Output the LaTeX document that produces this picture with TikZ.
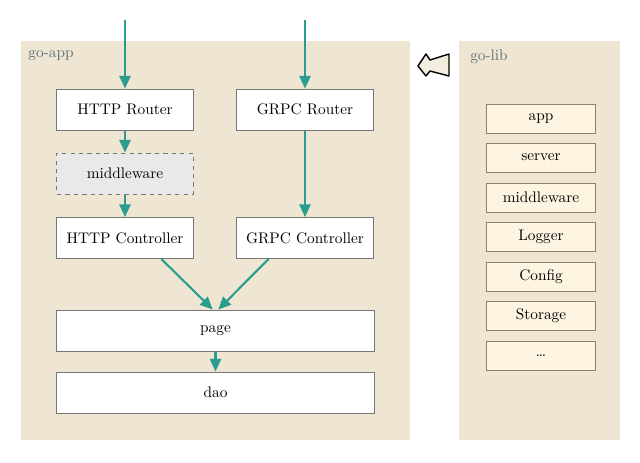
\documentclass[tikz,border=0pt]{standalone}
\usepackage{tikz}
\usetikzlibrary{arrows.meta}
\definecolor{flow}{HTML}{2A9D8F}
\definecolor{panel}{HTML}{EEE6D3}
\definecolor{boxline}{HTML}{777777}
\definecolor{libfill}{HTML}{FDF5E1}
\definecolor{libline}{HTML}{8B8170}
\definecolor{labelgray}{HTML}{5F6F75}
\newcommand{\boxfont}{\fontsize{10.9}{13}\selectfont}

\begin{document}
\begin{tikzpicture}[x=0.025cm, y=-0.025cm,
  layer/.style={draw=boxline, fill=white, line width=0.7pt, minimum width=3.4cm, minimum height=1.025cm, font=\boxfont},
  hook/.style={layer, dashed, fill=gray!17},
  wide/.style={layer, minimum width=7.925cm},
  libbox/.style={draw=libline, fill=libfill, line width=0.7pt, minimum width=2.7cm, minimum height=0.725cm, font=\boxfont},
  call/.style={draw=flow, line width=1.5pt, -{Triangle[width=8pt,length=9pt]}}]

 \useasboundingbox (0,0) rectangle (640,462);

 % panels
 \fill[panel] (21,41) rectangle (410,440);
 \fill[panel] (459,41) rectangle (620,440);
 \node[text=labelgray, font=\boxfont] (appname) at (51,56) {go-app};
 \node[text=labelgray, font=\boxfont] (libname) at (489,57) {go-lib};

 % go-app layers
 \node[layer] (httpr) at (125,109.5) {HTTP Router};
 \node[layer] (grpcr) at (305,109.5) {GRPC Router};
 \node[hook]  (mw)    at (125,173.5) {middleware};
 \node[layer] (httpc) at (125,238) {HTTP Controller};
 \node[layer] (grpcc) at (305,238) {GRPC Controller};
 \node[wide]  (page)  at (215.5,330.5) {page};
 \node[wide]  (dao)   at (215.5,392.5) {dao};

 \coordinate (inhttp) at (125,20);
 \coordinate (ingrpc) at (305,20);

 \draw[call] (inhttp) -- (httpr);
 \draw[call] (ingrpc) -- (grpcr);
 \draw[call] (httpr) -- (mw);
 \draw[call] (mw) -- (httpc);
 \draw[call] (grpcr) -- (grpcc);
 \draw[call] (httpc.-30) -- ([xshift=-0.07cm]page.north);
 \draw[call] (grpcc.-150) -- ([xshift=0.07cm]page.north);
 \draw[call] (page) -- (dao);

 % go-lib packages
 \node[libbox] (libapp) at (541,118.5) {app};
 \node[libbox] (libsrv) at (541,157.5) {server};
 \node[libbox] (libmw)  at (541,197.5) {middleware};
 \node[libbox] (liblog) at (541,236.5) {Logger};
 \node[libbox] (libcfg) at (541,276.5) {Config};
 \node[libbox] (libsto) at (541,315.5) {Storage};
 \node[libbox] (libmore) at (541,355.5) {\dots};

 % go-app uses go-lib
 \filldraw[fill=panel!70!white, draw=black, line width=1pt, line join=round]
   (449,54) .. controls (440,57) .. (430,60) -- (426,54) -- (418,66)
   -- (426,76) -- (430,71) .. controls (440,73) .. (449,76) -- cycle;

\end{tikzpicture}
\end{document}
